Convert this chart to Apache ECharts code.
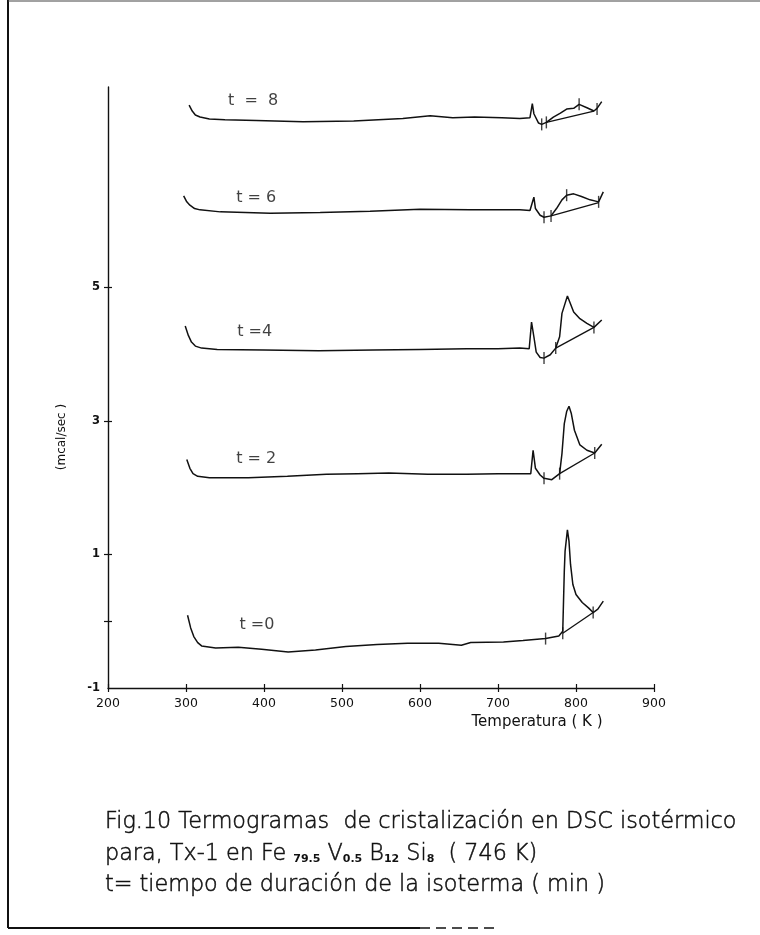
<!DOCTYPE html>
<html><head><meta charset="utf-8">
<script src="https://cdn.jsdelivr.net/npm/echarts@6/dist/echarts.min.js"></script>
<style>html,body{margin:0;padding:0;background:#fff}#c{width:760px;height:935px}</style>
</head><body><div id="c"></div>
<script>
// ---- data (Temperature K, mcal/sec) ----
const xMin = 200, xMax = 900, xStep = 100;
const yMin = -1, yMax = 8;
const yTickValues = [0, 1, 3, 5];
const yLabelValues = [-1, 1, 3, 5];

const t8 = [[304,7.73],[308,7.64],[312,7.58],[318,7.55],[330,7.52],[350,7.51],[390,7.50],[450,7.48],[515,7.49],[578,7.53],[613,7.57],[642,7.54],[670,7.55],[705,7.54],[728,7.53],[741,7.54],[744,7.75],[746,7.60],[752,7.46],[756,7.44],[762,7.47],[771,7.55],[780,7.61],[788,7.67],[797,7.68],[804,7.74],[814,7.69],[823,7.64],[827,7.68],[833,7.78]];
const t8Base = [[762,7.47],[823,7.64]];
const t8Ticks = [[756,7.44],[762,7.47],[804,7.74],[827,7.67]];

const t6 = [[297,6.37],[301,6.28],[305,6.23],[311,6.18],[318,6.16],[344,6.13],[408,6.11],[472,6.12],[536,6.14],[600,6.17],[664,6.16],[700,6.16],[728,6.16],[741,6.15],[746,6.35],[748,6.18],[754,6.08],[759,6.05],[768,6.07],[775,6.18],[782,6.31],[788,6.38],[797,6.40],[807,6.36],[818,6.31],[829,6.28],[835,6.43]];
const t6Base = [[768,6.07],[829,6.27]];
const t6Ticks = [[759,6.05],[768,6.07],[788,6.38],[829,6.28]];

const t4 = [[299,4.42],[303,4.28],[307,4.18],[312,4.12],[320,4.09],[340,4.07],[400,4.06],[470,4.05],[540,4.06],[600,4.07],[660,4.08],[700,4.08],[728,4.09],[740,4.08],[743,4.48],[746,4.26],[749,4.03],[754,3.95],[759,3.94],[767,3.99],[774,4.09],[779,4.26],[782,4.61],[786,4.76],[789,4.87],[792,4.78],[797,4.63],[805,4.53],[814,4.46],[823,4.40],[833,4.51]];
const t4Base = [[774,4.09],[823,4.40]];
const t4Ticks = [[759,3.94],[774,4.09],[823,4.40]];

const t2 = [[301,2.42],[305,2.29],[309,2.21],[315,2.17],[330,2.15],[380,2.15],[430,2.17],[480,2.20],[520,2.21],[560,2.22],[610,2.20],[660,2.20],[700,2.21],[728,2.21],[742,2.21],[745,2.56],[748,2.29],[754,2.19],[759,2.14],[769,2.12],[779,2.21],[782,2.51],[785,2.96],[788,3.14],[791,3.22],[794,3.11],[798,2.86],[805,2.64],[814,2.56],[824,2.52],[833,2.65]];
const t2Base = [[779,2.21],[824,2.52]];
const t2Ticks = [[759,2.14],[779,2.21],[824,2.52]];

const t0 = [[302,0.09],[306,-0.10],[310,-0.23],[315,-0.32],[320,-0.37],[338,-0.40],[367,-0.39],[397,-0.42],[431,-0.46],[466,-0.43],[505,-0.38],[545,-0.35],[584,-0.33],[624,-0.33],[653,-0.36],[665,-0.32],[707,-0.31],[732,-0.29],[761,-0.26],[778,-0.22],[783,-0.15],[784,0.30],[785,0.75],[786,1.05],[789,1.37],[791,1.20],[793,0.85],[796,0.55],[800,0.40],[808,0.28],[816,0.20],[822,0.13],[828,0.18],[835,0.30]];
const t0Base = [[783,-0.18],[822,0.13]];
const t0Ticks = [[761,-0.26],[783,-0.18],[822,0.13]];

const curveLabels = ['t  =  8', 't = 6', 't =4', 't = 2', 't =0'];
const curveLabelPos = [[386,7.80],[390,6.34],[388,4.33],[390,2.43],[391,-0.06]];

const yAxisName = '(mcal/sec )';
const xAxisName = 'Temperatura ( K )';
const caption1 = 'Fig.10 Termogramas  de cristalización en DSC isotérmico';
const caption3 = 't= tiempo de duración de la isoterma ( min )';

// ---- chart ----
const INK = '#111';
const CAP = '200 22.3px "DejaVu Sans"';
const curves = [t8, t6, t4, t2, t0];
const bases = [t8Base, t6Base, t4Base, t2Base, t0Base];
const ticks = [t8Ticks, t6Ticks, t4Ticks, t2Ticks, t0Ticks];

const series = [];
curves.forEach(c => series.push({type:'line', data:c, showSymbol:false, silent:true,
  lineStyle:{color:INK, width:1.5}, z:3}));
bases.forEach(c => series.push({type:'line', data:c, showSymbol:false, silent:true,
  lineStyle:{color:INK, width:1.3}, z:3}));
ticks.forEach(c => series.push({type:'scatter', data:c, symbol:'rect', symbolSize:[1.4,12],
  itemStyle:{color:INK}, silent:true, z:4}));
series.push({type:'scatter', symbolSize:0, silent:true,
  data: curveLabelPos.map((p,i)=>({value:p, name:curveLabels[i]})),
  label:{show:true, position:'inside', formatter:p=>p.name, color:INK,
    fontFamily:'DejaVu Sans', fontSize:16}});

const capStyle = {fill:INK, stroke:INK, lineWidth:0.5};

const chart = echarts.init(document.getElementById('c'));
chart.setOption({
  backgroundColor:'#fff',
  animation:false,
  grid:{left:108, top:87, right:106, bottom:247, containLabel:false},
  xAxis:[
    {type:'value', min:xMin, max:xMax, interval:xStep,
     axisLine:{onZero:false, lineStyle:{color:INK, width:1.4}},
     axisTick:{length:4, lineStyle:{color:INK, width:1.2}},
     axisLabel:{color:INK, fontSize:12.5, margin:9, fontFamily:'DejaVu Sans'},
     splitLine:{show:false}},
    {type:'value', min:xMin, max:xMax, interval:xStep, position:'bottom',
     axisLine:{show:false, onZero:false},
     axisTick:{inside:true, length:4, lineStyle:{color:INK, width:1.2}},
     axisLabel:{show:false}, splitLine:{show:false}}
  ],
  yAxis:[
    {type:'value', min:yMin, max:yMax, interval:1,
     axisLine:{show:true, onZero:false, lineStyle:{color:INK, width:1.4}},
     axisTick:{show:true, length:4, customValues:yTickValues, lineStyle:{color:INK, width:1.2}},
     axisLabel:{customValues:yLabelValues, color:INK, fontSize:11.5, fontWeight:'bold', margin:8, fontFamily:'DejaVu Sans'},
     splitLine:{show:false}},
    {type:'value', min:yMin, max:yMax, interval:1, position:'left',
     axisLine:{show:false, onZero:false},
     axisTick:{show:true, inside:true, length:4, customValues:yTickValues, lineStyle:{color:INK, width:1.2}},
     axisLabel:{show:false}, splitLine:{show:false}}
  ],
  series: series,
  graphic:[
    {type:'line', shape:{x1:8, y1:0, x2:8, y2:928}, style:{stroke:INK, lineWidth:2}},
    {type:'line', shape:{x1:8, y1:928, x2:420, y2:928}, style:{stroke:INK, lineWidth:2}},
    {type:'line', shape:{x1:420, y1:928, x2:500, y2:928}, style:{stroke:INK, lineWidth:1.5, lineDash:[10,6]}},
    {type:'line', shape:{x1:8, y1:1, x2:760, y2:1}, style:{stroke:'#444', lineWidth:1}},
    {type:'text', x:62, y:437, rotation:Math.PI/2,
     style:{text:yAxisName, font:'12px "DejaVu Sans"', fill:INK, textAlign:'center', textVerticalAlign:'middle'}},
    {type:'text', x:537, y:722,
     style:{text:xAxisName, font:'15px "DejaVu Sans"', fill:INK, textAlign:'center', textVerticalAlign:'middle'}},
    {type:'text', x:105, y:822,
     style:Object.assign({text:caption1, font:CAP, textAlign:'left', textVerticalAlign:'middle'}, capStyle)},
    {type:'text', x:105, y:854,
     style:{text:'{n|para, Tx-1 en Fe }{s|79.5}{n| V}{s|0.5}{n| B}{s|12}{n| Si}{s|8}{n|  ( 746 K)}',
       textAlign:'left', textVerticalAlign:'middle',
       rich:{n:Object.assign({font:CAP}, capStyle), s:{font:'bold 11px "DejaVu Sans"', fill:INK, verticalAlign:'bottom'}}}},
    {type:'text', x:105, y:885,
     style:Object.assign({text:caption3, font:CAP, textAlign:'left', textVerticalAlign:'middle'}, capStyle)}
  ]
});
</script></body></html>
